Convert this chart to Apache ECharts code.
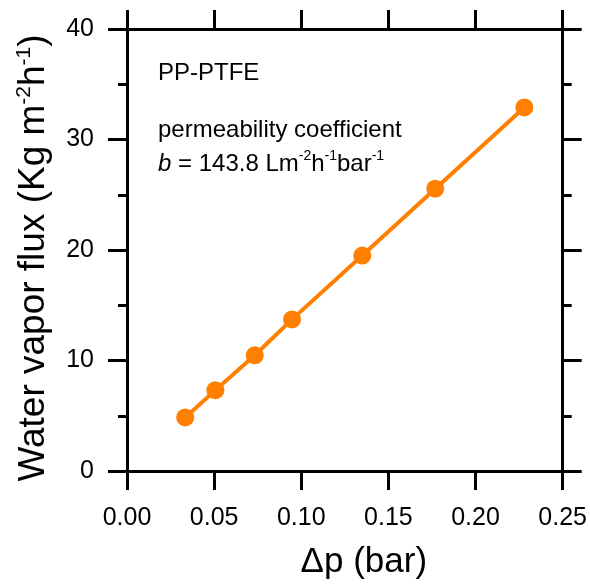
<!DOCTYPE html>
<html>
<head>
<meta charset="utf-8">
<script src="https://cdn.jsdelivr.net/npm/echarts@6/dist/echarts.min.js"></script>
<style>
  html, body { margin: 0; padding: 0; background: #fff; }
  #chart { width: 590px; height: 585px; }
</style>
</head>
<body>
<div id="chart"></div>
<script>
// 数据：压差 (bar) 与水蒸气通量
const dp = [0.0334, 0.0507, 0.0733, 0.0947, 0.1350, 0.1769, 0.2280]
const flux = [4.85, 7.31, 10.47, 13.72, 19.50, 25.55, 32.90]
const xName = 'Δp (bar)'
const yName = 'Water vapor flux (Kg m{s|-2}h{s|-1})'
const notes = ['PP-PTFE', 'permeability coefficient', '{i|b} = 143.8 Lm{s|-2}h{s|-1}bar{s|-1}']

const font = 'Liberation Sans, Arial, sans-serif'
const orange = '#ff8000'

const chart = echarts.init(document.getElementById('chart'))

// 公共坐标轴样式
const lineStyle = { color: '#000', width: 3 }
function xAxisOf(position, showLabel) {
  return {
    type: 'value',
    position: position,
    min: 0,
    max: 0.25,
    interval: 0.05,
    axisLine: { show: true, onZero: false, lineStyle: lineStyle },
    axisTick: { show: true, inside: false, length: 19, lineStyle: { width: 3, color: '#000' } },
    axisLabel: {
      show: showLabel,
      margin: 35,
      color: '#000',
      fontSize: 25,
      fontFamily: font,
      formatter: v => v.toFixed(2)
    },
    splitLine: { show: false }
  }
}
function yAxisOf(position, showLabel) {
  return {
    type: 'value',
    position: position,
    min: 0,
    max: 40,
    interval: 10,
    axisLine: { show: true, onZero: false, lineStyle: lineStyle },
    axisTick: { show: true, inside: false, length: 19, lineStyle: { width: 3, color: '#000' } },
    minorTick: { show: true, splitNumber: 2, length: 9, lineStyle: { width: 3, color: '#000' } },
    axisLabel: {
      show: showLabel,
      margin: 33,
      color: '#000',
      fontSize: 25,
      fontFamily: font
    },
    splitLine: { show: false }
  }
}

const xBottom = xAxisOf('bottom', true)
xBottom.name = xName
xBottom.nameLocation = 'middle'
xBottom.nameGap = 74
xBottom.nameTextStyle = { color: '#000', fontSize: 35, fontFamily: font, padding: [0, 0, 0, 38] }

const yLeft = yAxisOf('left', true)
yLeft.name = yName
yLeft.nameLocation = 'middle'
yLeft.nameGap = 71
yLeft.nameTextStyle = {
  color: '#000',
  fontSize: 37,
  fontFamily: font,
  lineHeight: 42,
  padding: [0, 16, 0, 0],
  rich: {
    s: { fontSize: 21, fontFamily: font, color: '#000', verticalAlign: 'top', lineHeight: 42 }
  }
}

chart.setOption({
  backgroundColor: '#fff',
  animation: false,
  grid: { left: 127, right: 24, top: 29, bottom: 113 },
  xAxis: [xBottom, xAxisOf('top', false)],
  yAxis: [yLeft, yAxisOf('right', false)],
  graphic: [
    {
      type: 'text', left: 158, top: 61,
      style: { text: notes[0], fill: '#000', fontSize: 24, fontFamily: font }
    },
    {
      type: 'text', left: 158, top: 118,
      style: { text: notes[1], fill: '#000', fontSize: 24, fontFamily: font }
    },
    {
      type: 'text', left: 158, top: 149,
      style: {
        text: notes[2], fill: '#000', fontSize: 24, fontFamily: font, lineHeight: 30,
        rich: {
          i: { fontSize: 24, fontStyle: 'italic', fontFamily: font, lineHeight: 30 },
          s: { fontSize: 14, fontFamily: font, verticalAlign: 'top', lineHeight: 30 }
        }
      }
    }
  ],
  series: [{
    type: 'line',
    xAxisIndex: 0,
    yAxisIndex: 0,
    data: dp.map((x, i) => [x, flux[i]]),
    symbol: 'circle',
    symbolSize: 18,
    lineStyle: { color: orange, width: 4 },
    itemStyle: { color: orange },
    z: 5
  }]
})
</script>
</body>
</html>
